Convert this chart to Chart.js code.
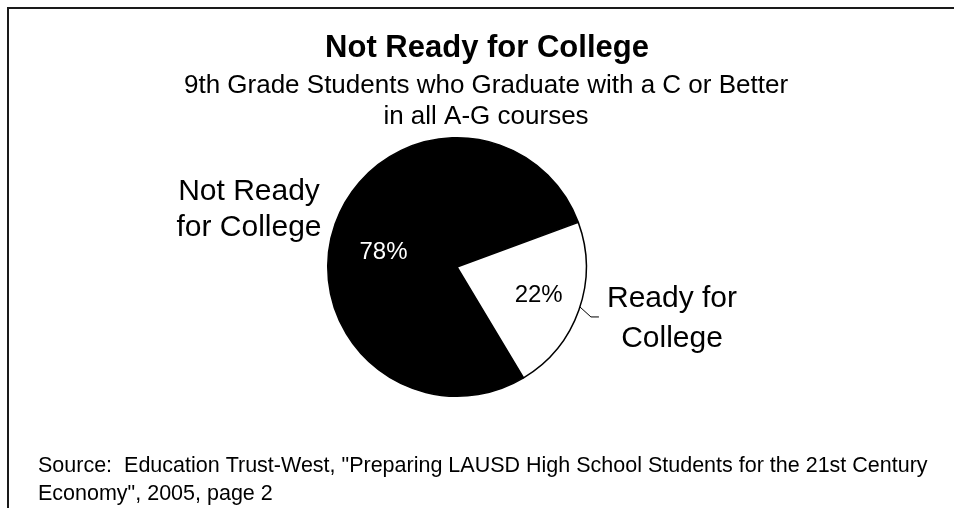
<!DOCTYPE html>
<html>
<head>
<meta charset="utf-8">
<script src="https://cdn.jsdelivr.net/npm/chart.js@4.4.1/dist/chart.umd.min.js"></script>
<style>
  html, body { margin: 0; padding: 0; background: #fff; }
  #wrap { width: 954px; height: 508px; }
</style>
</head>
<body>
<div id="wrap"><canvas id="pie" width="954" height="508"></canvas></div>
<script>
// data
const categories = ['Not Ready for College', 'Ready for College'];
const percents = [78, 22];
const categoryLines = [['Not Ready', 'for College'], ['Ready for', 'College']];
const sliceColors = ['#000000', '#ffffff'];
const titleText = 'Not Ready for College';
const subtitleLines = ['9th Grade Students who Graduate with a C or Better', 'in all A-G courses'];
const sourceLines = [
    'Source:  Education Trust-West, "Preparing LAUSD High School Students for the 21st Century',
    'Economy", 2005, page 2'
];

const FONT = '"Liberation Sans", Arial, sans-serif';

const textPlugin = {
    id: 'textPlugin',
    afterDraw(chart) {
        const ctx = chart.ctx;
        const arcs = chart.getDatasetMeta(0).data;
        ctx.save();

        // frame (only left and top edges show)
        ctx.strokeStyle = '#1a1a1a';
        ctx.lineWidth = 2;
        ctx.beginPath();
        ctx.moveTo(8, chart.height);
        ctx.lineTo(8, 8);
        ctx.lineTo(chart.width, 8);
        ctx.stroke();

        // titles
        ctx.fillStyle = '#000';
        ctx.textAlign = 'center';
        ctx.textBaseline = 'alphabetic';
        ctx.font = 'bold 31px ' + FONT;
        ctx.fillText(titleText, 487, 57);
        ctx.font = '26px ' + FONT;
        subtitleLines.forEach((t, i) => ctx.fillText(t, 486, 93 + i * 31));

        // source note
        ctx.textAlign = 'left';
        ctx.font = '21.5px ' + FONT;
        sourceLines.forEach((t, i) => ctx.fillText(t, 38, 472 + i * 28));

        // percentage labels inside the slices
        const pctRadius = [0.58, 0.67];
        const pctShift = [-8, 0];
        const pctColor = ['#fff', '#000'];
        ctx.textAlign = 'center';
        ctx.textBaseline = 'middle';
        ctx.font = '24px ' + FONT;
        arcs.forEach((arc, i) => {
            const p = arc.getProps(['x', 'y', 'startAngle', 'endAngle', 'outerRadius'], true);
            const mid = (p.startAngle + p.endAngle) / 2 + pctShift[i] * Math.PI / 180;
            const d = p.outerRadius * pctRadius[i];
            ctx.fillStyle = pctColor[i];
            ctx.fillText(percents[i] + '%', p.x + Math.cos(mid) * d, p.y + Math.sin(mid) * d);
        });

        // category labels outside the pie
        const c = arcs[0].getProps(['x', 'y', 'outerRadius'], true);
        const catOffsets = [
            { dx: -208, dy: [-67, -31] },
            { dx: 215, dy: [40, 80] }
        ];
        ctx.fillStyle = '#000';
        ctx.textBaseline = 'alphabetic';
        ctx.font = '30px ' + FONT;
        categoryLines.forEach((lines, i) => {
            lines.forEach((t, j) => ctx.fillText(t, c.x + catOffsets[i].dx, c.y + catOffsets[i].dy[j]));
        });

        // leader line for the small slice
        const a = 18 * Math.PI / 180;
        const sx = c.x + Math.cos(a) * c.outerRadius;
        const sy = c.y + Math.sin(a) * c.outerRadius;
        ctx.strokeStyle = '#000';
        ctx.lineWidth = 1;
        ctx.beginPath();
        ctx.moveTo(sx, sy);
        ctx.lineTo(sx + 11, sy + 10);
        ctx.lineTo(sx + 19, sy + 10);
        ctx.stroke();

        ctx.restore();
    }
};

new Chart(document.getElementById('pie'), {
    type: 'pie',
    data: {
        labels: categories,
        datasets: [{
            data: percents,
            backgroundColor: sliceColors,
            borderColor: '#000',
            borderWidth: 1.5
        }]
    },
    options: {
        responsive: false,
        animation: false,
        rotation: 149,
        layout: {
            padding: { left: 327, right: 367, top: 137, bottom: 111 }
        },
        plugins: {
            legend: { display: false },
            tooltip: { enabled: false }
        }
    },
    plugins: [textPlugin]
});
</script>
</body>
</html>
